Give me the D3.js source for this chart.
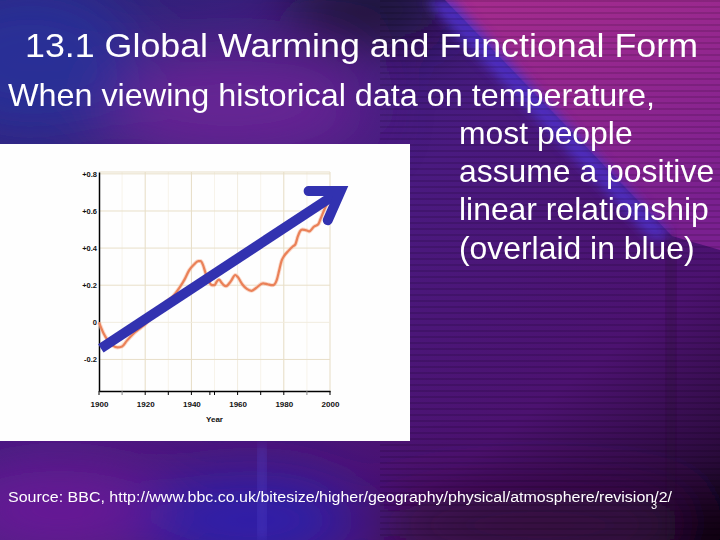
<!DOCTYPE html>
<html lang="en">
<head>
<meta charset="UTF-8">
<title>13.1 Global Warming and Functional Form</title>
<style>
  body { margin: 0; background: #2a1560; }
  svg { display: block; font-family: "Liberation Sans", Arial, sans-serif; }
</style>
<script src="https://cdn.jsdelivr.net/npm/d3@7"></script>
</head>
<body>
<svg id="slide" width="720" height="540"></svg>
<script>
// temperature anomaly (deg C)
const years = [1900, 1902, 1904, 1906, 1908, 1910, 1912, 1915, 1918, 1920, 1923, 1926, 1929, 1932,
  1935, 1937, 1939, 1941, 1943, 1944, 1945, 1946, 1947, 1949, 1950, 1951, 1952, 1953, 1954, 1955,
  1957, 1959, 1960, 1962, 1964, 1966, 1968, 1971, 1973, 1975, 1976, 1977, 1978, 1979, 1980, 1982,
  1984, 1985, 1986, 1987, 1988, 1990, 1991, 1993, 1995, 1996, 1998, 1999];
const anomaly = [0.00, -0.06, -0.10, -0.125, -0.135, -0.13, -0.10, -0.06, -0.03, -0.01, 0.03, 0.08, 0.11, 0.14,
  0.19, 0.23, 0.28, 0.31, 0.33, 0.33, 0.31, 0.27, 0.235, 0.20, 0.20, 0.22, 0.23, 0.215, 0.20, 0.195,
  0.22, 0.255, 0.245, 0.205, 0.18, 0.17, 0.185, 0.21, 0.205, 0.20, 0.205, 0.23, 0.28, 0.33, 0.355, 0.385,
  0.41, 0.42, 0.46, 0.49, 0.50, 0.495, 0.49, 0.515, 0.53, 0.56, 0.62, 0.645];

// the blue "linear relationship" overlay (start, arrow vertex)
const trendYears = [1900.8, 2004.6];
const trendValues = [-0.14, 0.708];

const xTicks = [1900, 1920, 1940, 1960, 1980, 2000];
const xMinorTicks = [1910, 1930, 1948, 1950, 1970, 1990];
const yTicks = [0.8, 0.6, 0.4, 0.2, 0, -0.2];
const yTickLabels = ["+0.8", "+0.6", "+0.4", "+0.2", "0", "-0.2"];

const titleText = "13.1 Global Warming and Functional Form";
const bodyLines = ["When viewing historical data on temperature,", "most people",
  "assume a positive", "linear relationship", "(overlaid in blue)"];
const sourceText = "Source: BBC, http://www.bbc.co.uk/bitesize/higher/geography/physical/atmosphere/revision/2/";

const svg = d3.select("#slide");
const W = 720, H = 540;
const defs = svg.append("defs");

// ---- background ----
const base = defs.append("linearGradient").attr("id", "base")
  .attr("x1", "0%").attr("y1", "0%").attr("x2", "100%").attr("y2", "100%");
base.append("stop").attr("offset", "0%").attr("stop-color", "#2b2478");
base.append("stop").attr("offset", "45%").attr("stop-color", "#4a1a80");
base.append("stop").attr("offset", "75%").attr("stop-color", "#4c1270");
base.append("stop").attr("offset", "100%").attr("stop-color", "#1e0828");
svg.append("rect").attr("width", W).attr("height", H).attr("fill", "url(#base)");

defs.append("filter").attr("id", "soft").attr("x", "-50%").attr("y", "-50%")
  .attr("width", "200%").attr("height", "200%")
  .append("feGaussianBlur").attr("stdDeviation", 30);
defs.append("filter").attr("id", "soft2")
  .append("feGaussianBlur").attr("stdDeviation", 6);

const glows = svg.append("g").attr("filter", "url(#soft)");
glows.append("ellipse").attr("cx", 230).attr("cy", 105).attr("rx", 140).attr("ry", 55)
  .attr("fill", "#72289a").attr("opacity", 0.8);
glows.append("ellipse").attr("cx", 30).attr("cy", 60).attr("rx", 110).attr("ry", 80)
  .attr("fill", "#2a309a").attr("opacity", 0.9);
glows.append("ellipse").attr("cx", 370).attr("cy", 10).attr("rx", 90).attr("ry", 30)
  .attr("fill", "#160a28");
glows.append("ellipse").attr("cx", 60).attr("cy", 510).attr("rx", 110).attr("ry", 40)
  .attr("fill", "#6a1a9a");
glows.append("ellipse").attr("cx", 250).attr("cy", 520).attr("rx", 110).attr("ry", 40)
  .attr("fill", "#2c24b0");
glows.append("ellipse").attr("cx", 540).attr("cy", 525).attr("rx", 170).attr("ry", 35)
  .attr("fill", "#34103e");
glows.append("ellipse").attr("cx", 735).attr("cy", 545).attr("rx", 60).attr("ry", 50)
  .attr("fill", "#000000");

// magenta wedge on the upper right, with a bright violet edge
const wedge = defs.append("linearGradient").attr("id", "wedge")
  .attr("x1", "0%").attr("y1", "0%").attr("x2", "30%").attr("y2", "100%");
wedge.append("stop").attr("offset", "0%").attr("stop-color", "#a62c8e");
wedge.append("stop").attr("offset", "100%").attr("stop-color", "#7a2090");
svg.append("polygon")
  .attr("points", "445,0 720,0 720,250 672,236")
  .attr("fill", "url(#wedge)");
svg.append("polygon")
  .attr("points", "425,0 452,0 672,236 652,240")
  .attr("fill", "#5030c8").attr("filter", "url(#soft2)").attr("opacity", 0.9);
svg.append("rect").attr("x", 666).attr("y", 236).attr("width", 10).attr("height", 304)
  .attr("fill", "#2a0830").attr("opacity", 0.4).attr("filter", "url(#soft2)");
svg.append("rect").attr("x", 258).attr("y", 445).attr("width", 8).attr("height", 95)
  .attr("fill", "#5a4ad0").attr("opacity", 0.5).attr("filter", "url(#soft2)");

// horizontal streaks
const streak = defs.append("pattern").attr("id", "streak")
  .attr("width", 8).attr("height", 6).attr("patternUnits", "userSpaceOnUse");
streak.append("rect").attr("width", 8).attr("height", 2).attr("fill", "#000").attr("opacity", 0.12);
svg.append("rect").attr("x", 380).attr("y", 0).attr("width", 340).attr("height", H)
  .attr("fill", "url(#streak)");

// ---- chart panel ----
svg.append("rect").attr("x", 0).attr("y", 144).attr("width", 410).attr("height", 297)
  .attr("fill", "#fefefe");

const x = d3.scaleLinear().domain([1900, 2000]).range([99, 330]);
const y = d3.scaleLinear().domain([-0.37, 0.81]).range([391, 172]);
const chart = svg.append("g");

// grid
chart.append("g").selectAll("line").data(d3.range(1910, 2001, 10))
  .join("line")
  .attr("x1", d => x(d)).attr("x2", d => x(d))
  .attr("y1", y(0.81)).attr("y2", y(-0.37))
  .attr("stroke", d => d % 20 === 0 ? (d === 1960 ? "#f1ecdf" : "#e6dcc4") : "#f7f3ea")
  .attr("stroke-width", 1);
chart.append("g").selectAll("line").data(yTicks)
  .join("line")
  .attr("x1", x(1900)).attr("x2", x(2000))
  .attr("y1", d => y(d)).attr("y2", d => y(d))
  .attr("stroke", d => d === 0 ? "#f1ecdf" : "#e8dfc8")
  .attr("stroke-width", 1);
chart.append("line")
  .attr("x1", x(1900)).attr("x2", x(2000)).attr("y1", y(0.81)).attr("y2", y(0.81))
  .attr("stroke", "#e8dfc8");

// axes
const xAxis = d3.axisBottom(x).tickValues(xTicks).tickSize(0).tickPadding(10).tickFormat(d3.format("d"));
const gx = chart.append("g").attr("transform", `translate(0,${y(-0.37)})`).call(xAxis);
gx.select(".domain").attr("stroke", "#000").attr("stroke-width", 1.5);
gx.selectAll("text").attr("font-size", 8).attr("font-weight", "bold").attr("fill", "#111")
  .attr("font-family", "'Liberation Sans', Arial, sans-serif");
chart.append("g").selectAll("line").data(xTicks.concat(xMinorTicks)).join("line")
  .attr("x1", d => x(d)).attr("x2", d => x(d))
  .attr("y1", y(-0.37)).attr("y2", y(-0.37) + 4)
  .attr("stroke", d => d === 1910 || d === 1990 ? "#888" : "#000").attr("stroke-width", 1);

const yAxis = d3.axisLeft(y).tickValues(yTicks).tickSize(0).tickPadding(2)
  .tickFormat((d, i) => yTickLabels[i]);
const gy = chart.append("g").attr("transform", `translate(${x(1900)},0)`).call(yAxis);
gy.select(".domain").attr("stroke", "#000").attr("stroke-width", 1.5);
gy.selectAll("text").attr("font-size", 7.5).attr("font-weight", "bold").attr("fill", "#111")
  .attr("font-family", "'Liberation Sans', Arial, sans-serif");

chart.append("text").attr("x", x(1950)).attr("y", 422)
  .attr("text-anchor", "middle").attr("font-size", 8).attr("font-weight", "bold")
  .attr("fill", "#111").text("Year");

// temperature line
const pts = years.map((yr, i) => [yr, anomaly[i]]);
const line = d3.line().x(d => x(d[0])).y(d => y(d[1])).curve(d3.curveMonotoneX);
chart.append("path").datum(pts).attr("d", line)
  .attr("fill", "none").attr("stroke", "#f6c2aa").attr("stroke-width", 4).attr("opacity", 0.6);
chart.append("path").datum(pts).attr("d", line)
  .attr("fill", "none").attr("stroke", "#ea8158").attr("stroke-width", 2.2);

// blue arrow
const x0 = x(trendYears[0]), y0 = y(trendValues[0]);
const x1 = x(trendYears[1]), y1 = y(trendValues[1]);
const ang = Math.atan2(y1 - y0, x1 - x0);
const barb = 32, spread = 33 * Math.PI / 180;
const blue = "#3232b0";
chart.append("line")
  .attr("x1", x0).attr("y1", y0)
  .attr("x2", x1 - 4 * Math.cos(ang)).attr("y2", y1 - 4 * Math.sin(ang))
  .attr("stroke", blue).attr("stroke-width", 10);
chart.append("path")
  .attr("d", d3.line()([
    [x1 - barb * Math.cos(ang - spread), y1 - barb * Math.sin(ang - spread)],
    [x1, y1],
    [x1 - barb * Math.cos(ang + spread), y1 - barb * Math.sin(ang + spread)]
  ]))
  .attr("fill", "none").attr("stroke", blue).attr("stroke-width", 10)
  .attr("stroke-linejoin", "miter").attr("stroke-miterlimit", 10).attr("stroke-linecap", "round");

// ---- slide text ----
svg.append("text").attr("x", 25).attr("y", 57)
  .attr("font-size", 34).attr("fill", "#fff")
  .attr("textLength", 673).attr("lengthAdjust", "spacingAndGlyphs")
  .text(titleText);

svg.append("g").selectAll("text").data(bodyLines).join("text")
  .attr("x", (d, i) => i === 0 ? 8 : 459)
  .attr("y", (d, i) => 105.5 + i * 38.3)
  .attr("font-size", 30.5).attr("fill", "#fff")
  .text(d => d)
  .each(function (d, i) {
    const w = i === 0 ? 647 : this.getComputedTextLength() * 1.045;
    d3.select(this).attr("textLength", w).attr("lengthAdjust", "spacingAndGlyphs");
  });

svg.append("text").attr("x", 8).attr("y", 502)
  .attr("font-size", 15.5).attr("fill", "#fff")
  .attr("textLength", 664).attr("lengthAdjust", "spacingAndGlyphs")
  .text(sourceText);
svg.append("text").attr("x", 651).attr("y", 509)
  .attr("font-size", 11).attr("fill", "#fff").text("3");
</script>
</body>
</html>
